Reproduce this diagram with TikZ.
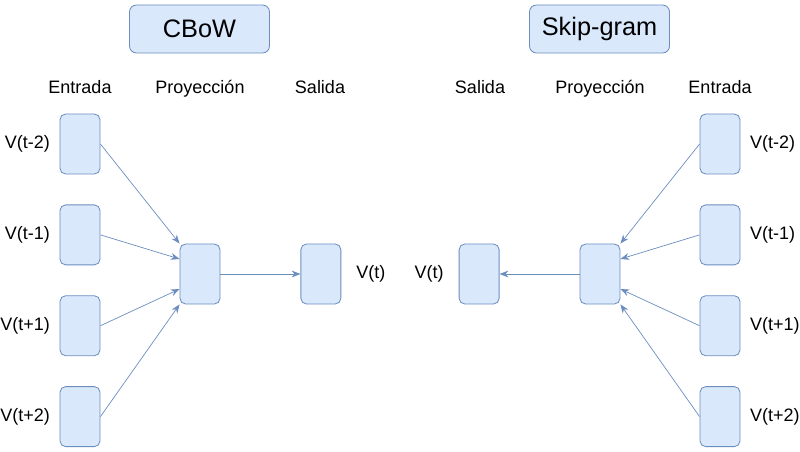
\documentclass[tikz,border=0pt]{standalone}
\usepackage{fontspec}
\setmainfont{Liberation Sans}
\usepackage{tikz}
\usetikzlibrary{arrows.meta,positioning}
\definecolor{cellfill}{HTML}{DAE8FC}
\definecolor{cellline}{HTML}{6C8EBF}

\begin{document}
\begin{tikzpicture}[x=0.025cm, y=-0.025cm, node distance=7.5mm and 20mm, every node/.style={font=\fontsize{12.8}{15}\selectfont}]
\tikzstyle{cell}=[draw=cellline, fill=cellfill, line width=0.6pt, rounded corners=4pt, minimum width=1cm, minimum height=1.5cm, inner sep=0pt]
\tikzstyle{title}=[cell, rounded corners=5pt, minimum width=3.5cm, minimum height=1.2cm, font=\fontsize{18}{21}\selectfont]
\tikzstyle{head}=[anchor=base]
\tikzstyle{link}=[draw=cellline, line width=0.5pt, -{Stealth[length=2.2mm,width=1.7mm]}]
\useasboundingbox (0,0) rectangle (800,452);
% CBoW
\node[title] (cbow) at (199.5,29) {CBoW};
\node[head] (hin) at (80,94) {Entrada};
\node[head] (hproj) at (200,94) {Proyección};
\node[head] (hout) at (320,94) {Salida};
\node[cell] (in1) at (80,144) {};
\node[cell, below=of in1] (in2) {};
\node[cell, below=of in2] (in3) {};
\node[cell, below=of in3] (in4) {};
\node[cell] (proj) at (200,274) {};
\node[cell, right=of proj] (out) {};
\node[left=1.2mm of in1] {V(t-2)};
\node[left=1.2mm of in2] {V(t-1)};
\node[left=1.2mm of in3] {V(t+1)};
\node[left=1.2mm of in4] {V(t+2)};
\node[right=2.5mm of out] {V(t)};
\draw[link] (in1.east) -- (proj.north west);
\draw[link] (in2.east) -- ([yshift=0.375cm]proj.west);
\draw[link] (in3.east) -- ([yshift=-0.375cm]proj.west);
\draw[link] (in4.east) -- (proj.south west);
\draw[link] (proj) -- (out);
% Skip-gram
\node[title] (skip) at (599.5,29) {Skip-gram};
\node[head] (hout2) at (480,94) {Salida};
\node[head] (hproj2) at (600,94) {Proyección};
\node[head] (hin2) at (720,94) {Entrada};
\node[cell] (sin1) at (720,144) {};
\node[cell, below=of sin1] (sin2) {};
\node[cell, below=of sin2] (sin3) {};
\node[cell, below=of sin3] (sin4) {};
\node[cell] (sproj) at (600,274) {};
\node[cell, left=of sproj] (sout) {};
\node[right=1.2mm of sin1] {V(t-2)};
\node[right=1.2mm of sin2] {V(t-1)};
\node[right=1.2mm of sin3] {V(t+1)};
\node[right=1.2mm of sin4] {V(t+2)};
\node[left=2.5mm of sout] {V(t)};
\draw[link] (sin1.west) -- (sproj.north east);
\draw[link] (sin2.west) -- ([yshift=0.375cm]sproj.east);
\draw[link] (sin3.west) -- ([yshift=-0.375cm]sproj.east);
\draw[link] (sin4.west) -- (sproj.south east);
\draw[link] (sproj) -- (sout);
\end{tikzpicture}
\end{document}
